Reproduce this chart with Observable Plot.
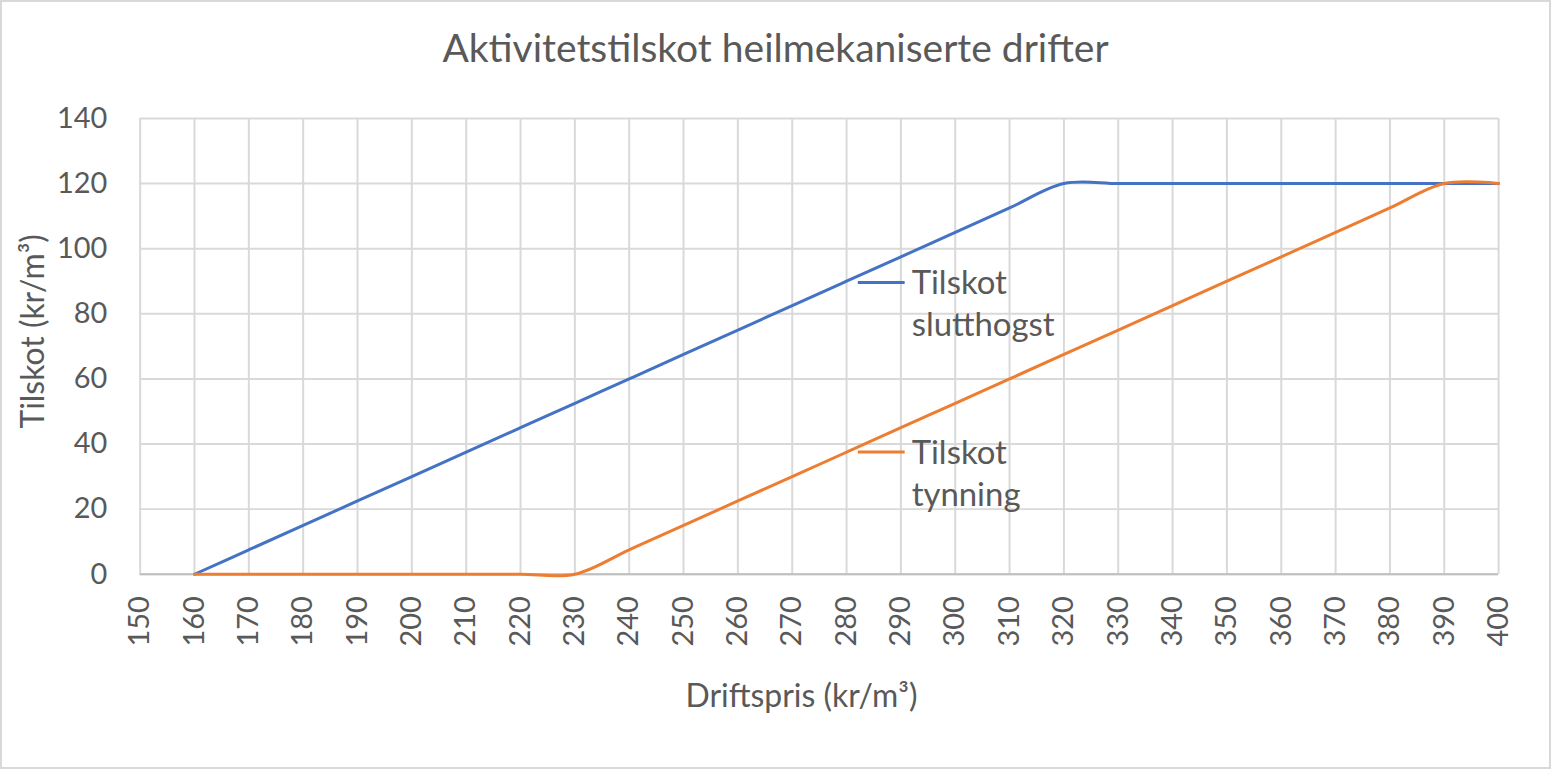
<!DOCTYPE html>
<html>
<head>
<meta charset="utf-8">
<script src="https://cdn.jsdelivr.net/npm/d3@7"></script>
<script src="https://cdn.jsdelivr.net/npm/@observablehq/plot@0.6"></script>
<style>
  html, body { margin: 0; padding: 0; background: #fff; }
  #wrap { position: relative; width: 1551px; height: 769px; box-sizing: border-box; border: 2px solid #d9d9d9; overflow: hidden; font-family: Lato, "Open Sans", sans-serif; }
  #title { position: absolute; left: 0; top: 0; width: 100%; height: 90px; line-height: 90px; text-align: center; font-size: 39px; color: #595959; }
  #chart { position: absolute; left: -2px; top: 88px; }
</style>
</head>
<body>
<div id="wrap">
  <div id="title">Aktivitetstilskot heilmekaniserte drifter</div>
  <div id="chart"></div>
</div>
<script>
const driftspris = [160,170,180,190,200,210,220,230,240,250,260,270,280,290,300,310,320,330,340,350,360,370,380,390,400];
const slutthogst = [0,7.5,15,22.5,30,37.5,45,52.5,60,67.5,75,82.5,90,97.5,105,112.5,120,120,120,120,120,120,120,120,120];
const tynning    = [0,0,0,0,0,0,0,0,7.5,15,22.5,30,37.5,45,52.5,60,67.5,75,82.5,90,97.5,105,112.5,120,120];
const xTicks = [150,160,170,180,190,200,210,220,230,240,250,260,270,280,290,300,310,320,330,340,350,360,370,380,390,400];
const yTicks = [0,20,40,60,80,100,120,140];
const seriesNames = ["Tilskot slutthogst", "Tilskot tynning"];
const seriesColors = ["#4472C4", "#ED7D31"];
const xTitle = "Driftspris (kr/m³)";
const yTitle = "Tilskot (kr/m³)";

const rows = [];
driftspris.forEach((x, i) => {
  rows.push({x, y: slutthogst[i], s: seriesNames[0]});
  rows.push({x, y: tynning[i], s: seriesNames[1]});
});

const textColor = "#595959";
const font = "Lato, 'Open Sans', sans-serif";

// legend rendered inside frame (pixel offsets from frame top-left)
const legendMark = (index, scales, values, dims) => {
  const g = d3.create("svg:g").attr("font-family", font).attr("font-size", 33)
    .attr("fill", textColor).attr("text-anchor", "start");
  const x0 = dims.marginLeft + 720, y0s = [dims.marginTop + 165, dims.marginTop + 335];
  seriesNames.forEach((name, i) => {
    const y0 = y0s[i];
    g.append("line").attr("x1", x0).attr("x2", x0 + 47).attr("y1", y0).attr("y2", y0)
      .attr("stroke", seriesColors[i]).attr("stroke-width", 3);
    name.split(" ").forEach((w, j) => {
      g.append("text").attr("x", x0 + 54).attr("y", y0 + j * 42).attr("dy", "0.36em").text(w);
    });
  });
  return g.node();
};

const chart = Plot.plot({
  width: 1553,
  height: 681,
  marginTop: 28,
  marginLeft: 140,
  marginRight: 51,
  marginBottom: 196,
  style: { fontFamily: font, color: textColor, background: "#fff" },
  x: { domain: [150, 400], ticks: xTicks, label: null },
  y: { domain: [0, 140], ticks: yTicks, label: null },
  color: { domain: seriesNames, range: seriesColors },
  marks: [
    Plot.gridX(xTicks, { stroke: "#d9d9d9", strokeOpacity: 1, strokeWidth: 2 }),
    Plot.gridY(yTicks, { stroke: "#d9d9d9", strokeOpacity: 1, strokeWidth: 2 }),
    Plot.ruleY([0], { stroke: "#bfbfbf", strokeWidth: 2 }),
    Plot.axisX({ ticks: xTicks, tickSize: 0, tickPadding: 22, tickRotate: -90, fontSize: 29, fill: textColor, label: null }),
    Plot.axisY({ ticks: yTicks, tickSize: 0, tickPadding: 33, fontSize: 29, fill: textColor, label: null }),
    Plot.text([xTitle], { text: d => d, frameAnchor: "bottom", dy: 123, dx: -18, lineAnchor: "middle", textAnchor: "middle", fontSize: 32, fill: textColor }),
    Plot.text([yTitle], { text: d => d, frameAnchor: "left", rotate: -90, dx: -107, dy: -15, lineAnchor: "middle", textAnchor: "middle", fontSize: 32, fill: textColor }),
    Plot.line(rows, { x: "x", y: "y", z: "s", stroke: "s", strokeWidth: 3, curve: "catmull-rom" }),
    legendMark
  ]
});
document.getElementById("chart").appendChild(chart);
</script>
</body>
</html>
